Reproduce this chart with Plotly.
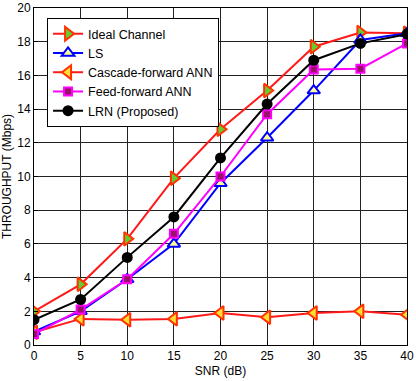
import plotly.graph_objects as go

snr = [0, 5, 10, 15, 20, 25, 30, 35, 40]
ideal = [2.0, 3.6, 6.3, 9.9, 12.8, 15.1, 17.7, 18.55, 18.5]
ls = [0.8, 2.0, 3.9, 6.0, 9.6, 12.3, 15.1, 18.1, 18.5]
cascade = [0.75, 1.55, 1.5, 1.55, 1.9, 1.65, 1.9, 2.0, 1.8]
feed = [0.65, 2.1, 3.9, 6.6, 10.0, 13.7, 16.35, 16.4, 17.9]
lrn = [1.5, 2.7, 5.2, 7.6, 11.1, 14.3, 16.9, 17.9, 18.45]

names = ["Ideal Channel", "LS", "Cascade-forward ANN", "Feed-forward ANN", "LRN (Proposed)"]

FONT = "Liberation Sans, Arial, sans-serif"

fig = go.Figure()
fig.add_trace(go.Scatter(x=snr, y=ideal, name=names[0], mode="lines+markers",
    line=dict(color="#ff1a1a", width=2),
    marker=dict(symbol="triangle-right", size=12, color="#66cc33", line=dict(color="#ff3300", width=2))))
fig.add_trace(go.Scatter(x=snr, y=ls, name=names[1], mode="lines+markers",
    line=dict(color="#0000ff", width=2),
    marker=dict(symbol="triangle-up", size=11, color="#ffff99", line=dict(color="#0000ff", width=2))))
fig.add_trace(go.Scatter(x=snr, y=cascade, name=names[2], mode="lines+markers",
    line=dict(color="#ff1a1a", width=2),
    marker=dict(symbol="triangle-left", size=12, color="#ffdd33", line=dict(color="#ff3300", width=2))))
fig.add_trace(go.Scatter(x=snr, y=feed, name=names[3], mode="lines+markers",
    line=dict(color="#ff00ff", width=2),
    marker=dict(symbol="square", size=8, color="#991166", line=dict(color="#ff00ff", width=2))))
fig.add_trace(go.Scatter(x=snr, y=lrn, name=names[4], mode="lines+markers",
    line=dict(color="#000000", width=2),
    marker=dict(symbol="circle", size=11, color="#000000")))

axis_common = dict(showline=True, linecolor="black", linewidth=1, mirror=True,
                   showgrid=True, gridcolor="#222222", gridwidth=1,
                   ticks="inside", ticklen=4, tickcolor="black",
                   tickfont=dict(family=FONT, size=12, color="black"),
                   zeroline=False, automargin=False, ticklabeloverflow="allow")

fig.update_xaxes(range=[0, 40], dtick=5, title=dict(text="SNR (dB)", standoff=4,
                 font=dict(family=FONT, size=12, color="black")), **axis_common)
fig.update_yaxes(range=[0, 20], dtick=2, title=dict(text="THROUGHPUT (Mbps)", standoff=4,
                 font=dict(family=FONT, size=12, color="black")), **axis_common)

fig.update_layout(
    width=416, height=381,
    margin=dict(l=34, r=9, t=8, b=36),
    plot_bgcolor="white", paper_bgcolor="white",
    font=dict(family=FONT, size=12, color="black"),
    legend=dict(x=0.035, y=0.97, xanchor="left", yanchor="top", xref="paper", yref="paper",
                bgcolor="white", bordercolor="black", borderwidth=1,
                font=dict(family=FONT, size=12.5, color="black"), tracegroupgap=0, itemwidth=30),
)

fig.write_html("out.html", config={"displayModeBar": False})

with open("out.html", "r", encoding="utf-8") as f:
    html = f.read()
html = html.replace("<head>", "<head><style>html,body{margin:0;padding:0;overflow:hidden;}</style>", 1)
with open("out.html", "w", encoding="utf-8") as f:
    f.write(html)
